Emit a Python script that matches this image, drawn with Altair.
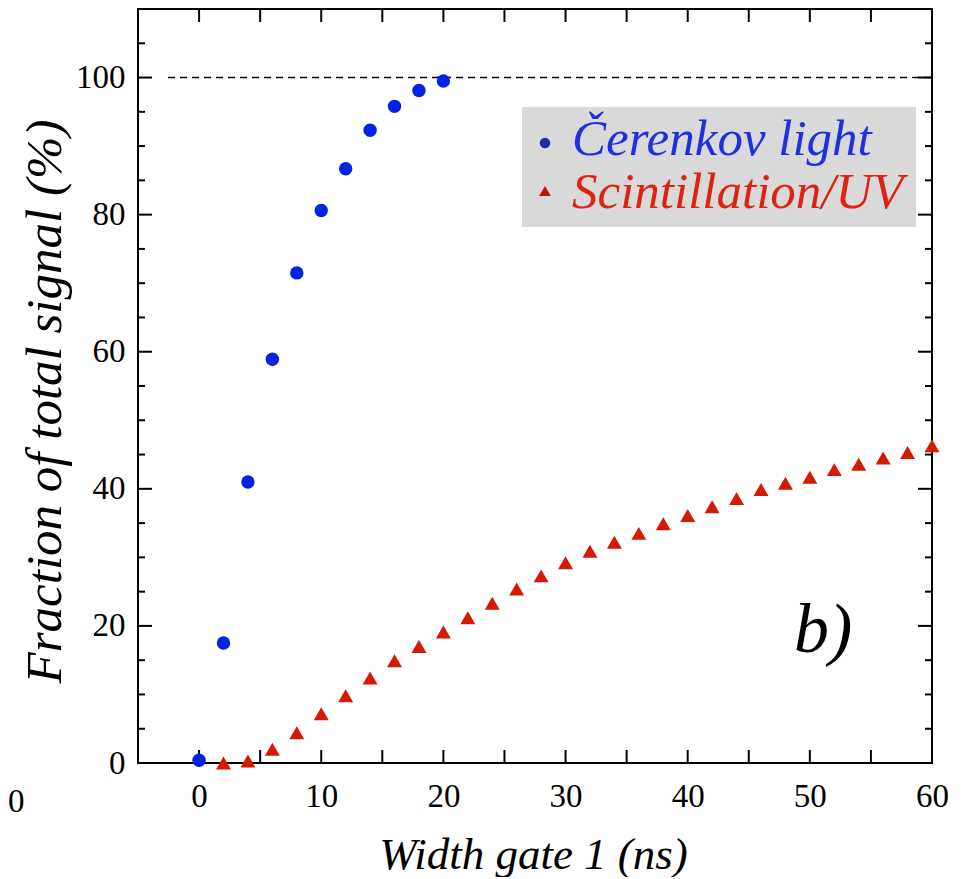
import altair as alt
import pandas as pd

SERIF = "Liberation Serif"

# ---- data ----
cer_x = [0, 2, 4, 6, 8, 10, 12, 14, 16, 18, 20]
cer_y = [0.4, 17.5, 41.0, 58.9, 71.5, 80.6, 86.7, 92.3, 95.8, 98.1, 99.5]

sci_x = [2, 4, 6, 8, 10, 12, 14, 16, 18, 20, 22, 24, 26, 28, 30,
         32, 34, 36, 38, 40, 42, 44, 46, 48, 50, 52, 54, 56, 58, 60]
sci_y = [0.0, 0.3, 2.0, 4.4, 7.2, 9.8, 12.4, 14.9, 17.0, 19.1, 21.2, 23.3, 25.4, 27.3, 29.2,
         30.9, 32.2, 33.5, 34.9, 36.1, 37.4, 38.6, 39.9, 40.8, 41.7, 42.8, 43.6, 44.5, 45.3, 46.3]

x_labels = [0, 10, 20, 30, 40, 50, 60]
y_labels = [0, 20, 40, 60, 80, 100]
x_ticks = [0, 5, 10, 15, 20, 25, 30, 35, 40, 45, 50, 55]
y_minor = [5, 10, 15, 25, 30, 35, 45, 50, 55, 65, 70, 75, 85, 90, 95, 105]
y_major = [20, 40, 60, 80, 100]

legend_names = ["Čerenkov light", "Scintillation/UV"]
panel_label = ["b)"]
panel_pos = [(48.7, 16.2)]
stray_label = ["0"]

W, H = 794, 754

xs = alt.Scale(domain=[-5, 60], nice=False, zero=False)
ys = alt.Scale(domain=[0, 110], nice=False, zero=False)

xaxis = alt.Axis(values=x_labels, ticks=False, domain=False, grid=False,
                 labelFont=SERIF, labelFontSize=33, labelColor="black", labelPadding=17,
                 labelFlush=False,
                 title="Width gate 1 (ns)", titleFont=SERIF, titleFontStyle="italic",
                 titleFontSize=45, titleFontWeight="normal", titleColor="black",
                 titleBaseline="alphabetic", titleAlign="center", titleX=395, titleY=105)
yaxis = alt.Axis(values=y_labels, ticks=False, domain=False, grid=False,
                 labelFont=SERIF, labelFontSize=33, labelColor="black", labelPadding=13,
                 labelBaseline="middle", labelFlush=False,
                 title="Fraction of total signal (%)", titleFont=SERIF, titleFontStyle="italic",
                 titleFontSize=51, titleFontWeight="normal", titleColor="black",
                 titleBaseline="alphabetic", titleAlign="center", titleAngle=270,
                 titleX=-78, titleY=392)


def X(field):
    return alt.X(field, type="quantitative", scale=xs, axis=xaxis)


def Y(field):
    return alt.Y(field, type="quantitative", scale=ys, axis=yaxis)


cer = pd.DataFrame({"x": cer_x, "y": cer_y})
sci = pd.DataFrame({"x": sci_x, "y": sci_y})

cer_layer = alt.Chart(cer).mark_point(shape="circle", filled=True, size=180,
                                      color="#0322e2", opacity=1).encode(x=X("x"), y=Y("y"))
sci_layer = alt.Chart(sci).mark_point(shape="triangle-up", filled=True, size=225,
                                      color="#d41a00", opacity=1).encode(x=X("x"), y=Y("y"))

dash = alt.Chart(pd.DataFrame({"y": [100]})).mark_rule(
    color="black", strokeWidth=1.6, strokeDash=[7, 5]).encode(
    y=Y("y"), x=alt.value(30), x2=alt.value(W))

xt = pd.DataFrame({"t": x_ticks})
ymin = pd.DataFrame({"t": y_minor})
ymaj = pd.DataFrame({"t": y_major})
tick_kw = dict(color="black", strokeWidth=2)
bottom_t = alt.Chart(xt).mark_rule(**tick_kw).encode(x=X("t"), y=alt.value(H), y2=alt.value(H - 13))
top_t = alt.Chart(xt).mark_rule(**tick_kw).encode(x=X("t"), y=alt.value(0), y2=alt.value(13))
left_min = alt.Chart(ymin).mark_rule(**tick_kw).encode(y=Y("t"), x=alt.value(0), x2=alt.value(7))
left_maj = alt.Chart(ymaj).mark_rule(**tick_kw).encode(y=Y("t"), x=alt.value(0), x2=alt.value(14))
right_min = alt.Chart(ymin).mark_rule(**tick_kw).encode(y=Y("t"), x=alt.value(W - 7), x2=alt.value(W))
right_maj = alt.Chart(ymaj).mark_rule(**tick_kw).encode(y=Y("t"), x=alt.value(W - 14), x2=alt.value(W))

# legend (drawn manually)
leg_box = alt.Chart(pd.DataFrame({"a": [0]})).mark_rect(color="#d9d9d9").encode(
    x=alt.value(384), x2=alt.value(778), y=alt.value(98), y2=alt.value(218))
leg_c = alt.Chart(pd.DataFrame({"a": [0]})).mark_point(
    shape="circle", filled=True, size=110, color="#1c2aa8", opacity=1).encode(
    x=alt.value(407), y=alt.value(134))
leg_t = alt.Chart(pd.DataFrame({"a": [0]})).mark_point(
    shape="triangle-up", filled=True, size=140, color="#b41a10", opacity=1).encode(
    x=alt.value(407), y=alt.value(182))
leg_txt1 = alt.Chart(pd.DataFrame({"name": [legend_names[0]]})).mark_text(
    font=SERIF, fontStyle="italic", fontSize=51, color="#1f30e0", align="left",
    baseline="alphabetic").encode(text="name:N", x=alt.value(434), y=alt.value(146))
leg_txt2 = alt.Chart(pd.DataFrame({"name": [legend_names[1]]})).mark_text(
    font=SERIF, fontStyle="italic", fontSize=51, color="#e02212", align="left",
    baseline="alphabetic").encode(text="name:N", x=alt.value(434), y=alt.value(199))

pl = pd.DataFrame({"t": panel_label, "x": [p[0] for p in panel_pos], "y": [p[1] for p in panel_pos]})
panel = alt.Chart(pl).mark_text(font=SERIF, fontStyle="italic", fontSize=70, color="black",
                                align="left", baseline="alphabetic").encode(
    text="t:N", x=X("x"), y=Y("y"))

stray = alt.Chart(pd.DataFrame({"t": stray_label})).mark_text(
    font=SERIF, fontSize=33, color="black", align="left", baseline="alphabetic").encode(
    text="t:N", x=alt.value(-130), y=alt.value(803))

chart = alt.layer(
    leg_box, dash, bottom_t, top_t, left_min, left_maj, right_min, right_maj,
    sci_layer, cer_layer, leg_c, leg_t, leg_txt1, leg_txt2, panel, stray
).properties(
    width=W, height=H,
    autosize=alt.AutoSizeParams(type="none"),
    padding={"left": 130, "top": 1, "right": 25, "bottom": 114},
    background="white",
).configure_view(stroke="black", strokeWidth=2)

chart.save("out.html", embed_options={"renderer": "svg", "actions": False})
